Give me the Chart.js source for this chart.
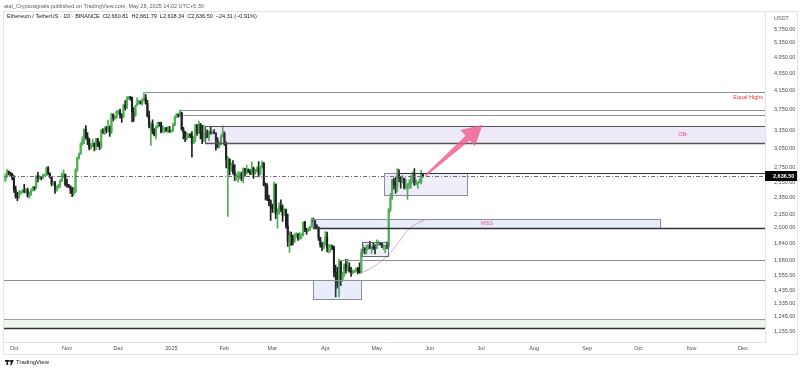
<!DOCTYPE html>
<html>
<head>
<meta charset="utf-8">
<title>ETHUSDT 1D</title>
<script src="https://cdn.jsdelivr.net/npm/chart.js@4.4.1/dist/chart.umd.min.js"></script>
<style>
    html, body { margin: 0; padding: 0; background: #ffffff; }
    #wrap { width: 800px; height: 370px; }
</style>
</head>
<body>
<div id="wrap"><canvas id="ethChart" width="800" height="370"></canvas></div>
<script>
// Ethereum / TetherUS daily candles, [open, high, low, close]
// first row is Sep 26 2024; days are counted from Oct 1 2024
const FIRST_DAY = -5;

const sep2024 = [
    [2579, 2665, 2555, 2632], [2632, 2729, 2615, 2696], [2696, 2702, 2650, 2677],
    [2677, 2685, 2635, 2658], [2658, 2672, 2580, 2602]
];
const oct2024 = [
    [2602, 2640, 2415, 2447], [2447, 2498, 2340, 2363], [2363, 2415, 2310, 2349], [2349, 2440, 2340, 2414],
    [2414, 2425, 2390, 2414], [2414, 2450, 2405, 2440], [2440, 2520, 2410, 2422], [2422, 2465, 2405, 2440],
    [2440, 2470, 2355, 2370], [2370, 2420, 2340, 2385], [2385, 2460, 2375, 2437], [2437, 2490, 2430, 2476],
    [2476, 2490, 2440, 2470], [2470, 2640, 2460, 2630], [2630, 2685, 2550, 2605], [2605, 2640, 2590, 2611],
    [2611, 2620, 2580, 2604], [2604, 2660, 2600, 2644], [2644, 2660, 2630, 2648], [2648, 2760, 2640, 2746],
    [2746, 2770, 2650, 2666], [2666, 2680, 2605, 2621], [2621, 2630, 2500, 2524], [2524, 2560, 2510, 2535],
    [2535, 2560, 2400, 2440], [2440, 2500, 2430, 2482], [2482, 2520, 2465, 2507], [2507, 2580, 2480, 2565],
    [2565, 2680, 2560, 2640], [2640, 2720, 2610, 2659], [2659, 2665, 2500, 2518]
];
const nov2024 = [
    [2518, 2590, 2480, 2511], [2511, 2520, 2480, 2493], [2493, 2500, 2400, 2456], [2456, 2480, 2360, 2398],
    [2398, 2480, 2375, 2421], [2421, 2735, 2415, 2722], [2722, 2915, 2700, 2895], [2895, 2975, 2880, 2962],
    [2962, 3140, 2955, 3126], [3126, 3245, 3100, 3183], [3183, 3385, 3130, 3372], [3372, 3446, 3210, 3243],
    [3243, 3320, 3110, 3186], [3186, 3220, 3025, 3059], [3059, 3130, 3040, 3094], [3094, 3200, 3080, 3133],
    [3133, 3140, 3010, 3077], [3077, 3220, 3030, 3208], [3208, 3220, 3080, 3109], [3109, 3160, 3030, 3070],
    [3070, 3370, 3050, 3353], [3353, 3390, 3300, 3326], [3326, 3420, 3280, 3393], [3393, 3430, 3310, 3361],
    [3361, 3545, 3330, 3414], [3414, 3440, 3250, 3325], [3325, 3680, 3300, 3655], [3655, 3665, 3530, 3578],
    [3578, 3625, 3560, 3592], [3592, 3730, 3580, 3703]
];
const dec2024 = [
    [3703, 3740, 3660, 3708], [3708, 3760, 3580, 3644], [3644, 3670, 3500, 3614], [3614, 3860, 3590, 3837],
    [3837, 3935, 3740, 3785], [3785, 4020, 3770, 3998], [3998, 4010, 3960, 4004], [4004, 4015, 3940, 3997],
    [3997, 4005, 3510, 3706], [3706, 3790, 3520, 3628], [3628, 3840, 3615, 3833], [3833, 3990, 3830, 3880],
    [3880, 3940, 3860, 3906], [3906, 3930, 3860, 3876], [3876, 3975, 3840, 3958], [3958, 4107, 3930, 3985],
    [3985, 4060, 3860, 3877], [3877, 3940, 3600, 3630], [3630, 3720, 3400, 3416], [3416, 3500, 3100, 3473],
    [3473, 3550, 3300, 3341], [3341, 3390, 3260, 3282], [3282, 3440, 3210, 3421], [3421, 3510, 3400, 3490],
    [3490, 3500, 3430, 3487], [3487, 3510, 3310, 3329], [3329, 3440, 3320, 3329], [3329, 3410, 3320, 3395],
    [3395, 3410, 3340, 3349], [3349, 3430, 3310, 3357], [3357, 3430, 3320, 3332]
];
const jan2025 = [
    [3332, 3365, 3320, 3354], [3354, 3490, 3340, 3451], [3451, 3620, 3440, 3605], [3605, 3670, 3590, 3657],
    [3657, 3665, 3600, 3635], [3635, 3745, 3610, 3686], [3686, 3700, 3360, 3379], [3379, 3410, 3210, 3329],
    [3329, 3340, 3160, 3219], [3219, 3320, 3190, 3267], [3267, 3300, 3230, 3282], [3282, 3300, 3230, 3265],
    [3265, 3335, 2910, 3137], [3137, 3250, 3130, 3223], [3223, 3470, 3160, 3451], [3451, 3460, 3270, 3306],
    [3306, 3525, 3300, 3473], [3473, 3480, 3210, 3307], [3307, 3450, 3130, 3214], [3214, 3450, 3160, 3283],
    [3283, 3360, 3200, 3327], [3327, 3365, 3230, 3240], [3240, 3345, 3180, 3337], [3337, 3430, 3290, 3303],
    [3303, 3350, 3290, 3318], [3318, 3370, 3300, 3303], [3303, 3320, 3020, 3182], [3182, 3230, 3060, 3077],
    [3077, 3160, 3060, 3113], [3113, 3280, 3110, 3249], [3249, 3440, 3240, 3300]
];
const feb2025 = [
    [3300, 3330, 3100, 3123], [3123, 3160, 2750, 2869], [2869, 2920, 2125, 2877], [2877, 2890, 2650, 2731],
    [2731, 2825, 2700, 2785], [2785, 2860, 2660, 2689], [2689, 2800, 2570, 2624], [2624, 2665, 2580, 2631],
    [2631, 2695, 2550, 2632], [2632, 2690, 2590, 2661], [2661, 2690, 2570, 2601], [2601, 2750, 2540, 2736],
    [2736, 2745, 2630, 2675], [2675, 2790, 2660, 2726], [2726, 2735, 2685, 2693], [2693, 2720, 2655, 2661],
    [2661, 2840, 2650, 2743], [2743, 2760, 2600, 2672], [2672, 2730, 2660, 2718], [2718, 2765, 2695, 2738],
    [2738, 2845, 2620, 2663], [2663, 2775, 2650, 2763], [2763, 2850, 2750, 2820], [2820, 2830, 2500, 2510],
    [2510, 2540, 2320, 2494], [2494, 2530, 2310, 2336], [2336, 2380, 2250, 2307], [2307, 2320, 2080, 2237]
];
const mar2025 = [
    [2237, 2270, 2170, 2217], [2217, 2550, 2170, 2518], [2518, 2525, 2100, 2149], [2149, 2215, 1995, 2170],
    [2170, 2285, 2150, 2240], [2240, 2320, 2180, 2201], [2201, 2260, 2070, 2139], [2139, 2220, 2130, 2204],
    [2204, 2210, 1995, 2020], [2020, 2150, 1810, 1865], [1865, 1960, 1755, 1922], [1922, 1955, 1820, 1909],
    [1909, 1925, 1825, 1862], [1862, 1940, 1850, 1910], [1910, 1950, 1900, 1934], [1934, 1940, 1870, 1887],
    [1887, 1955, 1880, 1926], [1926, 1935, 1885, 1932], [1932, 2065, 1915, 2058], [2058, 2070, 1960, 1983],
    [1983, 1995, 1930, 1965], [1965, 2000, 1965, 1982], [1982, 2015, 1970, 2005], [2005, 2105, 2000, 2080],
    [2080, 2105, 2035, 2069], [2069, 2080, 1995, 2009], [2009, 2035, 1990, 2003], [2003, 2010, 1870, 1897],
    [1897, 1900, 1805, 1827], [1827, 1850, 1770, 1805], [1805, 1855, 1785, 1822]
];
const apr2025 = [
    [1822, 1960, 1820, 1906], [1906, 1955, 1760, 1795], [1795, 1830, 1750, 1816], [1816, 1830, 1760, 1816],
    [1816, 1825, 1780, 1806], [1806, 1815, 1540, 1580], [1580, 1640, 1385, 1554], [1554, 1620, 1450, 1473],
    [1473, 1690, 1385, 1669], [1669, 1670, 1470, 1522], [1522, 1580, 1505, 1567], [1567, 1650, 1545, 1645],
    [1645, 1690, 1570, 1594], [1594, 1690, 1590, 1622], [1622, 1660, 1580, 1588], [1588, 1620, 1545, 1577],
    [1577, 1600, 1565, 1583], [1583, 1595, 1575, 1589], [1589, 1615, 1580, 1613], [1613, 1620, 1565, 1587],
    [1587, 1660, 1570, 1578], [1578, 1785, 1570, 1756], [1756, 1830, 1750, 1795], [1795, 1800, 1740, 1770],
    [1770, 1825, 1740, 1786], [1786, 1830, 1785, 1820], [1820, 1860, 1790, 1793], [1793, 1810, 1745, 1799],
    [1799, 1845, 1780, 1798], [1798, 1830, 1740, 1793]
];
const may2025 = [
    [1793, 1875, 1790, 1838], [1838, 1865, 1820, 1840], [1840, 1845, 1825, 1834], [1834, 1845, 1800, 1807],
    [1807, 1830, 1780, 1815], [1815, 1820, 1750, 1815], [1815, 1855, 1790, 1810], [1810, 2215, 1805, 2207],
    [2207, 2400, 2180, 2345], [2345, 2590, 2325, 2582], [2582, 2600, 2455, 2514], [2514, 2620, 2400, 2498],
    [2498, 2740, 2420, 2680], [2680, 2725, 2555, 2609], [2609, 2620, 2470, 2546], [2546, 2640, 2540, 2601],
    [2601, 2605, 2460, 2474], [2474, 2590, 2455, 2498], [2498, 2530, 2325, 2521], [2521, 2580, 2460, 2524],
    [2524, 2640, 2470, 2551], [2551, 2690, 2545, 2663], [2663, 2740, 2505, 2523], [2523, 2580, 2515, 2529],
    [2529, 2550, 2470, 2549], [2549, 2595, 2535, 2562], [2562, 2715, 2525, 2660], [2660.81, 2661.79, 2618.34, 2636.5]
];

const monthTicks = [0, 31, 61, 92, 123, 151, 182, 212, 243, 273, 304, 335, 365, 396, 426];
const monthLabels = ['Oct', 'Nov', 'Dec', '2025', 'Feb', 'Mar', 'Apr', 'May', 'Jun', 'Jul', 'Aug', 'Sep', 'Oct', 'Nov', 'Dec'];
const priceTicks = [5750, 5350, 4950, 4550, 4150, 3750, 3350, 3050, 2750, 2550, 2350, 2150, 2000, 1840, 1680, 1555, 1435, 1335, 1245, 1155];

// moving average that shows under the May rally
const maDays = [204, 210, 215, 220, 226, 231, 236, 240];
const maValues = [1579, 1625, 1680, 1750, 1880, 1990, 2050, 2083];

const lastPrice = 2636.5;

const candles = [].concat(sep2024, oct2024, nov2024, dec2024, jan2025, feb2025, mar2025, apr2025, may2025);

const UP = '#4caf50';
const DOWN = '#1f1f1f';
const colors = candles.map(c => (c[3] >= c[0] ? UP : DOWN));

// drawings on the chart (day, price), null end = chart edge
const zones = [
    { from: null, to: null, top: 1231, bottom: 1173, fill: 'rgba(76,175,80,0.1)', edge: '#9aa0a6', bottomLine: '#333333' },
    { from: 111.6, to: null, top: 3439, bottom: 3143, fill: 'rgba(149,117,205,0.15)', edge: '#555555', bottomLine: '#555555' },
    { from: 174.7, to: 377.6, top: 2090, bottom: 1993, fill: 'rgba(100,130,230,0.14)', edge: '#8a8f99', bottomLine: null },
    { from: 174.7, to: 202.8, top: 1513, bottom: 1368, fill: 'rgba(100,130,230,0.15)', edge: '#8a8f99', bottomLine: null },
    { from: 203.4, to: 218.6, top: 1850, bottom: 1718, fill: 'rgba(120,123,200,0.12)', edge: '#666a73', bottomLine: null },
    { from: 216.2, to: 264.8, top: 2681, bottom: 2386, fill: 'rgba(130,120,200,0.13)', edge: '#8a8f99', bottomLine: null }
];
const levels = [
    { from: 76.6, price: 4107, color: '#8a8f99', width: 1 },
    { from: 97, price: 3745, color: '#8a8f99', width: 1 },
    { from: 98.8, price: 3645, color: '#8a8f99', width: 1 },
    { from: 224.5, price: 2681, color: '#333333', width: 1 },
    { from: 174.7, price: 1993, color: '#333333', width: 1.5 },
    { from: 190.5, price: 1683, color: '#8a8f99', width: 1 },
    { from: null, price: 1513, color: '#8a8f99', width: 1 }
];
const labels = [
    { text: 'Equal Highs', day: null, price: 3989, color: '#f23645', align: 'right' },
    { text: 'OB-', day: 391, price: 3290, color: '#e0508f', align: 'center' },
    { text: 'MSS', day: 276.4, price: 2042, color: '#e0508f', align: 'center' }
];
const arrow = { fromDay: 240.5, fromPrice: 2640, toDay: 273.9, toPrice: 3457 };

const FONT = '"Liberation Sans", Arial, sans-serif';

const drawingsPlugin = {
    id: 'tvDrawings',
    afterDatasetsDraw(chart) {
        const { ctx, chartArea: a, scales: { x, y } } = chart;
        const px = d => (d == null ? a.left : x.getPixelForValue(d));
        const pxEnd = d => (d == null ? a.right : x.getPixelForValue(d));
        const crisp = v => Math.round(v) + 0.5;

        ctx.save();
        ctx.beginPath();
        ctx.rect(a.left, a.top, a.right - a.left, a.bottom - a.top);
        ctx.clip();

        // current price dash-dot line
        ctx.strokeStyle = '#6a6d78';
        ctx.lineWidth = 1;
        ctx.setLineDash([4, 2, 1, 2]);
        ctx.beginPath();
        ctx.moveTo(a.left, crisp(y.getPixelForValue(lastPrice)));
        ctx.lineTo(a.right, crisp(y.getPixelForValue(lastPrice)));
        ctx.stroke();
        ctx.setLineDash([]);

        zones.forEach(z => {
            const x0 = Math.round(px(z.from)), x1 = Math.round(pxEnd(z.to));
            const y0 = Math.round(y.getPixelForValue(z.top)), y1 = Math.round(y.getPixelForValue(z.bottom));
            ctx.fillStyle = z.fill;
            ctx.fillRect(x0, y0, x1 - x0, y1 - y0);
            ctx.strokeStyle = z.edge;
            ctx.lineWidth = 1;
            ctx.strokeRect(x0 + 0.5, y0 + 0.5, x1 - x0, y1 - y0);
            if (z.bottomLine) {
                ctx.strokeStyle = z.bottomLine;
                ctx.lineWidth = 1.5;
                ctx.beginPath();
                ctx.moveTo(x0, y1 + 0.5);
                ctx.lineTo(x1, y1 + 0.5);
                ctx.stroke();
            }
        });

        levels.forEach(l => {
            const yy = crisp(y.getPixelForValue(l.price));
            ctx.strokeStyle = l.color;
            ctx.lineWidth = l.width;
            ctx.beginPath();
            ctx.moveTo(px(l.from), yy);
            ctx.lineTo(a.right, yy);
            ctx.stroke();
        });

        // pink arrow
        const sx = x.getPixelForValue(arrow.fromDay), sy = y.getPixelForValue(arrow.fromPrice);
        const ex = x.getPixelForValue(arrow.toDay), ey = y.getPixelForValue(arrow.toPrice);
        const ang = Math.atan2(ey - sy, ex - sx);
        const len = Math.hypot(ex - sx, ey - sy);
        const headLen = 20, headW = 11, shaftW = 3.2;
        ctx.translate(sx, sy);
        ctx.rotate(ang);
        ctx.fillStyle = 'rgba(240, 90, 140, 0.8)';
        ctx.beginPath();
        ctx.moveTo(0, -1);
        ctx.lineTo(len - headLen, -shaftW);
        ctx.lineTo(len - headLen, -headW);
        ctx.lineTo(len, 0);
        ctx.lineTo(len - headLen, headW);
        ctx.lineTo(len - headLen, shaftW);
        ctx.lineTo(0, 1);
        ctx.closePath();
        ctx.fill();
        ctx.setTransform(1, 0, 0, 1, 0, 0);

        ctx.font = '5.5px ' + FONT;
        ctx.textBaseline = 'middle';
        labels.forEach(t => {
            ctx.fillStyle = t.color;
            ctx.textAlign = t.align;
            const tx = t.day == null ? a.right - 2 : x.getPixelForValue(t.day);
            ctx.fillText(t.text, tx, y.getPixelForValue(t.price));
        });
        ctx.restore();
    },
    afterDraw(chart) {
        const { ctx, chartArea: a, scales: { y } } = chart;
        ctx.save();

        // panel frame
        ctx.strokeStyle = '#e0e3eb';
        ctx.lineWidth = 1;
        ctx.strokeRect(3.5, 11.5, 794, 343);

        // header
        ctx.textBaseline = 'middle';
        ctx.textAlign = 'left';
        ctx.fillStyle = '#5d606b';
        ctx.font = '5.5px ' + FONT;
        ctx.fillText('atai_Cryptosignals published on TradingView.com, May 28, 2025 14:02 UTC+5:30', 4, 6);
        ctx.fillStyle = '#131722';
        ctx.fillText('Ethereum / TetherUS \u00b7 1D \u00b7 BINANCE  O2,660.81  H2,661.79  L2,618.34  C2,636.50  \u221224.31 (\u22120.91%)', 7, 16);

        ctx.fillStyle = '#5d606b';
        ctx.fillText('USDT', 774, 18);

        // last price tag
        const ly = Math.round(y.getPixelForValue(lastPrice));
        ctx.fillStyle = '#000000';
        ctx.fillRect(a.right, ly - 5, 32, 10);
        ctx.fillStyle = '#ffffff';
        ctx.font = 'bold 5.5px ' + FONT;
        ctx.fillText('2,636.50', a.right + 8, ly);

        // TradingView mark
        ctx.fillStyle = '#131722';
        ctx.fillRect(5, 360, 4, 1.6);
        ctx.fillRect(6.5, 360, 1.6, 5);
        ctx.beginPath();
        ctx.arc(10.2, 361, 1, 0, Math.PI * 2);
        ctx.fill();
        ctx.beginPath();
        ctx.moveTo(11.2, 360);
        ctx.lineTo(13.8, 360);
        ctx.lineTo(11.5, 365);
        ctx.lineTo(10.2, 365);
        ctx.closePath();
        ctx.fill();
        ctx.font = '6px ' + FONT;
        ctx.fillText('TradingView', 16, 362.5);
        ctx.restore();
    }
};

new Chart(document.getElementById('ethChart'), {
    type: 'bar',
    data: {
        datasets: [
            {
                label: 'wicks',
                data: candles.map((c, i) => ({ x: i + FIRST_DAY, y: [c[2], c[1]] })),
                backgroundColor: colors,
                barThickness: 1,
                grouped: false,
                order: 2
            },
            {
                label: 'bodies',
                data: candles.map((c, i) => ({ x: i + FIRST_DAY, y: [c[0], c[3]] })),
                backgroundColor: colors,
                barThickness: 1.4,
                minBarLength: 1,
                grouped: false,
                order: 1
            },
            {
                type: 'line',
                label: 'MA',
                data: maDays.map((d, i) => ({ x: d, y: maValues[i] })),
                borderColor: 'rgba(214, 160, 190, 0.9)',
                borderWidth: 1,
                pointRadius: 0,
                tension: 0.4,
                order: 3
            }
        ]
    },
    options: {
        responsive: false,
        animation: false,
        layout: { padding: { left: 3, top: 11, right: 0, bottom: 16 } },
        plugins: {
            legend: { display: false },
            tooltip: { enabled: false }
        },
        scales: {
            x: {
                type: 'linear',
                offset: false,
                min: -6.4,
                max: 438.9,
                grid: { display: false, drawTicks: false, tickLength: 0 },
                border: { display: true, color: '#e0e3eb' },
                afterBuildTicks: scale => { scale.ticks = monthTicks.map(v => ({ value: v })); },
                afterFit: scale => { scale.height = 12; },
                ticks: {
                    autoSkip: false,
                    maxRotation: 0,
                    padding: 3,
                    color: '#4a4d57',
                    font: { size: 5.5, family: FONT },
                    callback: value => monthLabels[monthTicks.indexOf(value)]
                }
            },
            y: {
                type: 'logarithmic',
                position: 'right',
                min: 1089.5,
                max: 6290,
                grid: { display: false, drawTicks: false, tickLength: 0 },
                border: { display: true, color: '#e0e3eb' },
                afterBuildTicks: scale => { scale.ticks = priceTicks.map(v => ({ value: v })); },
                afterFit: scale => { scale.width = 35; },
                ticks: {
                    autoSkip: false,
                    padding: 9,
                    color: '#4a4d57',
                    font: { size: 5.5, family: FONT },
                    callback: value => value.toLocaleString('en-US', { minimumFractionDigits: 2, maximumFractionDigits: 2 })
                }
            }
        }
    },
    plugins: [drawingsPlugin]
});
</script>
</body>
</html>
